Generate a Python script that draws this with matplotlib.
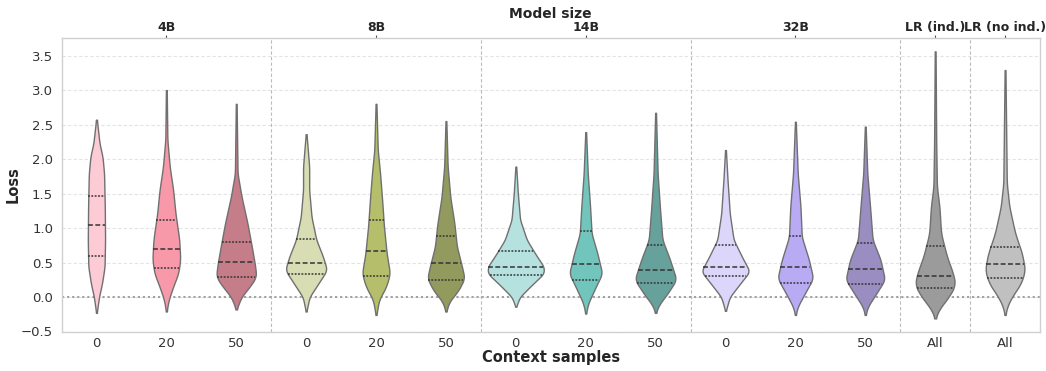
import numpy as np
import matplotlib
matplotlib.use('Agg')
from matplotlib import pyplot as plt

# x-axis categories
ctx_labels = ['0', '20', '50', '0', '20', '50', '0', '20', '50', '0', '20', '50', 'All', 'All']
model_labels = ['4B', '8B', '14B', '32B', 'LR (ind.)', 'LR (no ind.)']
model_pos = [1, 4, 7, 10, 12, 13]
separators = [2.5, 5.5, 8.5, 11.5, 12.5]

colors = ['#fccbd5', '#f899a9', '#c47d89',
          '#d8ddb4', '#b5be6b', '#929a5e',
          '#b5e2df', '#72c5bc', '#66a29b',
          '#ddd6fb', '#b9aaf4', '#9a8dc2',
          '#9b9b9b', '#c0c0c0']

# quartiles (q1, median, q3)
q1 = [0.60, 0.42, 0.29, 0.34, 0.31, 0.25, 0.32, 0.25, 0.20, 0.30, 0.21, 0.19, 0.13, 0.28]
med = [1.05, 0.70, 0.51, 0.50, 0.66, 0.50, 0.44, 0.48, 0.39, 0.43, 0.44, 0.41, 0.31, 0.48]
q3 = [1.47, 1.11, 0.80, 0.84, 1.11, 0.88, 0.67, 0.95, 0.76, 0.76, 0.88, 0.79, 0.74, 0.72]

# density profile of each violin: loss values and relative density
prof_y = [
    [-0.23, 0.00, 0.20, 0.44, 0.83, 1.31, 1.79, 2.03, 2.23, 2.57],
    [-0.21, -0.04, 0.15, 0.34, 0.54, 0.83, 1.21, 1.55, 1.89, 2.28, 3.00],
    [-0.18, 0.00, 0.15, 0.29, 0.44, 0.73, 1.07, 1.45, 1.79, 2.80],
    [-0.21, 0.00, 0.20, 0.39, 0.58, 0.83, 1.16, 1.55, 1.89, 2.36],
    [-0.26, -0.04, 0.15, 0.34, 0.63, 1.02, 1.41, 1.79, 2.13, 2.80],
    [-0.21, -0.07, 0.10, 0.27, 0.44, 0.73, 1.07, 1.45, 1.89, 2.55],
    [-0.14, 0.00, 0.15, 0.34, 0.44, 0.63, 0.83, 1.12, 1.50, 1.89],
    [-0.24, -0.09, 0.15, 0.34, 0.63, 0.92, 1.31, 1.79, 2.39],
    [-0.23, -0.12, 0.05, 0.25, 0.54, 0.83, 1.31, 1.79, 2.67],
    [-0.20, 0.00, 0.20, 0.37, 0.58, 0.83, 1.21, 1.70, 2.13],
    [-0.26, -0.14, 0.05, 0.27, 0.54, 0.87, 1.31, 1.79, 2.54],
    [-0.26, -0.14, 0.05, 0.25, 0.54, 0.83, 1.31, 1.79, 2.47],
    [-0.31, -0.19, 0.00, 0.17, 0.34, 0.58, 0.92, 1.31, 1.60, 2.28, 3.56],
    [-0.26, -0.14, 0.00, 0.20, 0.39, 0.63, 0.92, 1.31, 1.65, 3.29],
]
prof_d = [
    [0.3, 2.5, 5.5, 8.0, 8.5, 8.2, 7.5, 6.0, 3.0, 0.4],
    [0.3, 2.3, 6.7, 11.7, 13.7, 12.7, 9.0, 6.7, 3.3, 1.0, 0.4],
    [0.3, 5.0, 13.3, 19.7, 18.7, 15.3, 11.0, 5.3, 1.3, 0.4],
    [0.3, 3.3, 12.2, 20.5, 16.7, 10.0, 5.3, 3.0, 3.0, 0.4],
    [0.3, 3.0, 10.0, 13.7, 10.5, 7.8, 6.0, 4.0, 1.7, 0.4],
    [0.3, 3.3, 12.5, 18.3, 15.8, 10.8, 8.3, 4.3, 1.7, 0.4],
    [0.3, 4.0, 14.0, 27.5, 27.5, 19.0, 10.8, 4.2, 2.0, 0.4],
    [0.3, 2.5, 10.0, 16.2, 11.5, 5.8, 4.3, 2.0, 0.4],
    [0.3, 3.0, 11.7, 20.5, 14.2, 6.7, 4.2, 2.0, 0.4],
    [0.3, 4.2, 14.7, 23.8, 16.3, 8.0, 4.2, 2.0, 0.4],
    [0.3, 2.3, 9.2, 17.5, 13.3, 6.3, 5.0, 2.3, 0.4],
    [0.3, 2.5, 10.8, 19.3, 15.0, 7.2, 4.7, 2.0, 0.4],
    [0.3, 3.3, 13.3, 20.0, 17.7, 11.7, 5.8, 4.2, 1.7, 1.0, 0.4],
    [0.3, 2.0, 6.7, 15.8, 19.7, 16.7, 10.0, 4.2, 1.7, 0.4],
]

positions = np.arange(len(ctx_labels))
dmax = max(max(d) for d in prof_d)
half_w = 0.4  # seaborn default width 0.8

stats = []
for ys, ds, m in zip(prof_y, prof_d, med):
    coords = np.linspace(ys[0], ys[-1], 300)
    vals = np.interp(coords, ys, ds)
    k = 15
    padded = np.pad(vals, k // 2, mode='edge')
    vals = np.convolve(padded, np.ones(k) / k, mode='valid')
    stats.append(dict(coords=coords, vals=vals, mean=m, median=m,
                      min=ys[0], max=ys[-1]))

plt.rcParams['font.family'] = 'DejaVu Sans'
fig = plt.figure(figsize=(10.46, 3.71), dpi=100)
ax = fig.add_axes([61.5 / 1046, 1 - 331.5 / 371, (1040 - 61.5) / 1046, (331.5 - 38.3) / 371])

widths = [2 * half_w * s['vals'].max() / dmax for s in stats]
parts = ax.violin(stats, positions=positions, widths=widths,
                  showmeans=False, showextrema=False, showmedians=False)
for body, c in zip(parts['bodies'], colors):
    body.set_facecolor(c)
    body.set_edgecolor('#707070')
    body.set_linewidth(1.0)
    body.set_alpha(1)
    body.set_zorder(3)

# quartile lines
for i, s in enumerate(stats):
    for q, ls in [(q1[i], (0, (1.2, 1.0))), (med[i], (0, (3.2, 1.6))), (q3[i], (0, (1.2, 1.0)))]:
        hw = half_w * np.interp(q, s['coords'], s['vals']) / dmax
        ax.plot([positions[i] - hw, positions[i] + hw], [q, q], color='#333333',
                lw=1.1, linestyle=ls, zorder=4)

ax.axhline(0, color='#999999', lw=1.3, linestyle=(0, (1.2, 1.6)), zorder=2)
for sx in separators:
    ax.axvline(sx, color='#bbbbbb', lw=0.8, linestyle=(0, (3, 2)), zorder=1)

ax.set_xlim(-0.5, 13.5)
ax.set_ylim(-0.5, 3.75)
ax.set_yticks(np.arange(-0.5, 3.51, 0.5))
ax.set_xticks(positions)
ax.set_xticklabels(ctx_labels)
ax.yaxis.grid(True, color='#e3e3e3', lw=0.8, linestyle=(0, (3, 2)), zorder=0)
ax.set_axisbelow(True)
ax.tick_params(axis='x', length=0, labelsize=9.5, labelcolor='#333333', pad=4)
ax.tick_params(axis='y', length=0, labelsize=9.5, labelcolor='#333333', pad=6)
for sp in ax.spines.values():
    sp.set_color('#d0d0d0')
    sp.set_linewidth(1.0)
ax.set_xlabel('Context samples', fontsize=10.5, fontweight='bold', color='#262626', labelpad=0)
ax.set_ylabel('Loss', fontsize=10.5, fontweight='bold', color='#262626', labelpad=0)

top = ax.secondary_xaxis('top')
top.set_xticks(model_pos)
top.set_xticklabels(model_labels, fontweight='bold', fontsize=9)
top.tick_params(axis='x', length=2.5, width=0.8, color='#555555', labelcolor='#262626', pad=0.5)
top.spines['top'].set_visible(False)
top.set_xlabel('Model size', fontsize=10, fontweight='bold', color='#262626', labelpad=2.5)

fig.savefig('out.png', dpi=100)
